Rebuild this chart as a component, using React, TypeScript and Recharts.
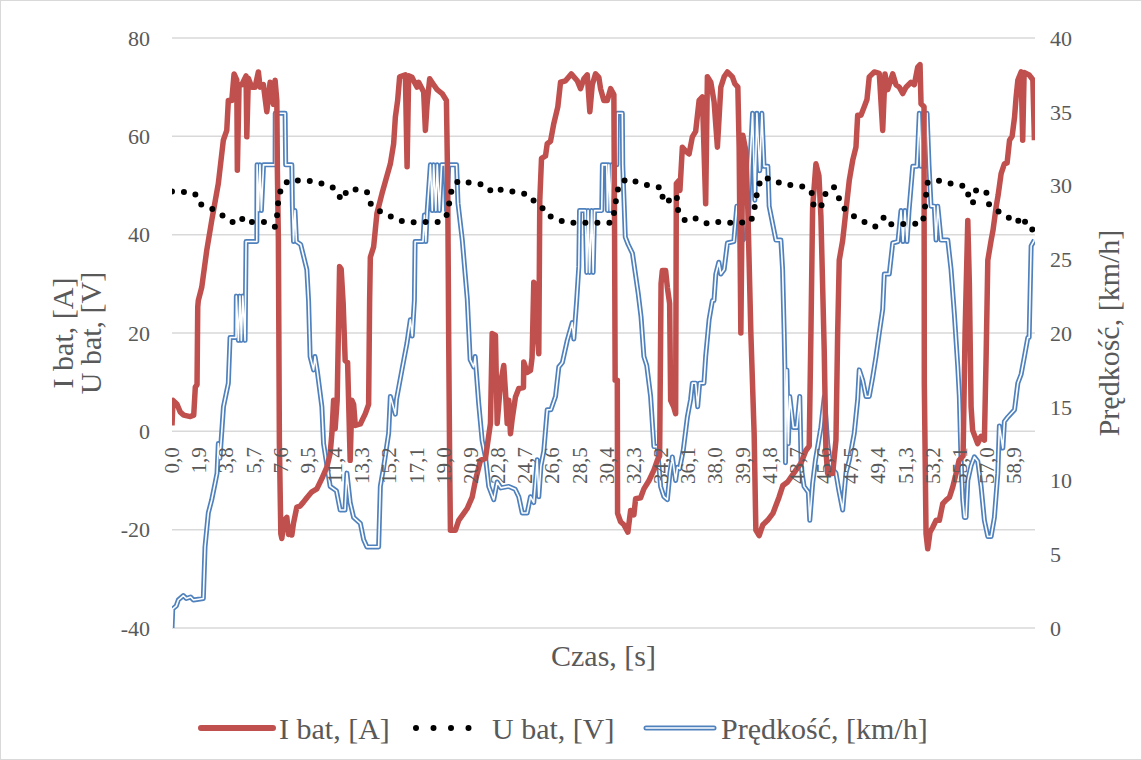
import React from "react";
import { LineChart, Line, XAxis, YAxis, CartesianGrid } from "recharts";

const FONT = "'Liberation Serif', 'Times New Roman', serif";
const TEXT = "#595959";
const GRID = "#d9d9d9";
const RED = "#c0504d";
const BLUE = "#4f81bd";

const W = 1142;
const H = 760;
const TOP = 38;
const PLOT_H = 590;
const LEFT_W = 172;
const RIGHT_W = 107;

// czas [s] -> etykiety osi X co 1,9 s
const xTicks = [
  0, 1.9, 3.8, 5.7, 7.6, 9.5, 11.4, 13.3, 15.2, 17.1, 19.0, 20.9, 22.8, 24.7, 26.6, 28.5,
  30.4, 32.3, 34.2, 36.1, 38.0, 39.9, 41.8, 43.7, 45.6, 47.5, 49.4, 51.3, 53.2, 55.1, 57.0, 58.9,
];
const leftTicks = [-40, -20, 0, 20, 40, 60, 80];
const rightTicks = [0, 5, 10, 15, 20, 25, 30, 35, 40];

// I bat [A]: [czas, prad]
const iBat: [number, number][] = [
  [0, 1.2], [0.07, 6.3], [0.35, 5.5], [0.58, 3.9], [0.82, 3.3], [1.28, 3.0], [1.52, 3.3], [1.63, 9.0],
  [1.75, 9.5], [1.8, 25.3], [1.84, 26.6], [2.08, 29.3], [2.43, 36.8], [2.78, 42.9], [3.24, 50.4],
  [3.59, 59.2], [3.83, 61.2], [3.94, 67.3], [4.18, 67.3], [4.34, 72.7], [4.53, 71.5], [4.57, 53.1],
  [4.69, 70.5], [4.88, 70.5], [5.18, 72.3], [5.23, 59.9], [5.34, 71.8], [5.58, 70.0], [5.81, 70.0],
  [6.04, 73.1], [6.16, 70.0], [6.39, 70.5], [6.63, 65.0], [6.86, 71.0], [7.09, 66.5], [7.21, 71.4],
  [7.33, 67.3], [7.37, 53.0], [7.44, 38.8], [7.51, -2.5], [7.61, -20.8], [7.68, -21.8], [7.84, -18.1],
  [8.03, -17.5], [8.15, -21.0], [8.26, -19.5], [8.38, -21.1], [8.49, -18.8], [8.73, -15.4], [8.96, -15.2],
  [9.19, -14.4], [9.43, -13.5], [9.78, -12.3], [10.13, -11.7], [10.48, -9.6], [10.83, -7.3], [11.06, -4.5],
  [11.18, -0.5], [11.3, 6.3], [11.41, 0.5], [11.55, 6.3], [11.72, 33.5], [11.83, 33.0], [11.97, 26.0],
  [12.11, 14.4], [12.28, 14.0], [12.46, -5.9], [12.58, 6.3], [12.7, 5.5], [12.82, 1.2], [13.17, 1.5],
  [13.52, 3.6], [13.75, 5.5], [13.82, 26.6], [13.87, 35.4], [14.1, 37.5], [14.33, 44.3], [14.68, 48.3],
  [15.27, 54.4], [15.5, 58.5], [15.62, 63.9], [15.78, 67.3], [15.92, 72.1], [16.32, 72.5], [16.44, 53.8],
  [16.55, 72.3], [16.79, 72.0], [16.95, 71.0], [17.14, 70.0], [17.25, 71.0], [17.6, 69.0], [17.72, 61.2],
  [17.84, 66.6], [18.02, 71.7], [18.3, 70.5], [18.54, 69.5], [18.89, 68.7], [19.19, 67.3], [19.28, 50.0],
  [19.35, 18.5], [19.42, -7.3], [19.47, -20.1], [19.82, -20.1], [20.05, -18.1], [20.4, -16.7],
  [20.64, -15.7], [20.99, -13.4], [21.22, -10.0], [21.57, -5.9], [21.92, -5.5], [22.27, 1.6], [22.39, 19.9],
  [22.62, 19.5], [22.74, 1.6], [22.97, 9.7], [23.2, 13.4], [23.32, 8.0], [23.44, 1.6], [23.55, 6.3],
  [23.67, -0.5], [23.79, 2.5], [24.02, 7.0], [24.25, 8.7], [24.58, 8.9], [24.6, 14.1], [24.84, 12.0],
  [25.07, 12.4], [25.18, 15.0], [25.3, 30.3], [25.42, 29.5], [25.53, 20.0], [25.65, 15.8], [25.72, 47.0],
  [25.84, 55.5], [26.12, 56.0], [26.24, 58.5], [26.47, 59.0], [26.7, 62.6], [26.98, 66.0], [27.17, 71.0],
  [27.52, 71.3], [27.92, 72.7], [28.34, 71.3], [28.57, 69.7], [28.8, 71.7], [29.04, 72.5], [29.22, 65.0],
  [29.39, 70.5], [29.62, 72.7], [29.85, 72.0], [29.97, 69.7], [30.2, 67.3], [30.44, 67.3], [30.67, 69.7],
  [30.9, 68.5], [30.95, 40.0], [30.99, 10.4], [31.14, 10.4], [31.16, -16.7], [31.37, -18.4], [31.6, -19.0],
  [31.88, -20.5], [32.07, -16.1], [32.3, -17.0], [32.42, -13.7], [32.77, -13.5], [33.0, -11.7],
  [33.36, -10.0], [33.7, -7.9], [33.94, -5.9], [34.1, -5.0], [34.2, 30.0], [34.29, 32.7], [34.52, 32.7],
  [34.64, 29.3], [34.8, 26.0], [34.87, 6.3], [35.08, 5.0], [35.22, 3.6], [35.27, 50.4], [35.45, 51.0],
  [35.52, 49.0], [35.69, 57.8], [35.92, 57.0], [36.16, 56.4], [36.39, 59.9], [36.62, 61.0], [36.86, 67.3],
  [37.09, 68.0], [37.32, 46.3], [37.44, 72.1], [37.68, 71.0], [37.91, 67.0], [38.14, 57.8], [38.38, 70.0],
  [38.61, 72.1], [38.84, 73.1], [39.19, 72.1], [39.36, 70.7], [39.57, 70.0], [39.66, 57.8], [39.78, 20.0],
  [39.92, 60.2], [40.13, 57.0], [40.27, 45.0], [40.48, 20.0], [40.71, -0.5], [40.83, -20.1],
  [41.06, -21.2], [41.32, -19.0], [41.65, -18.1], [42.02, -16.7], [42.45, -13.4], [42.72, -11.0],
  [43.05, -10.3], [43.63, -7.9], [43.98, -6.5], [44.33, -3.9], [44.56, -3.0], [44.68, 20.0], [44.8, 45.6],
  [45.03, 54.4], [45.24, 52.0], [45.38, 43.6], [45.61, 16.5], [45.73, -4.0], [45.85, -8.6], [46.2, -8.6],
  [46.43, -1.8], [46.55, 20.0], [46.66, 34.8], [46.9, 38.8], [47.13, 44.9], [47.36, 51.0], [47.6, 55.1],
  [47.83, 57.8], [47.95, 64.3], [48.18, 64.3], [48.41, 66.0], [48.6, 67.5], [48.76, 72.1], [49.11, 73.1],
  [49.46, 72.8], [49.7, 61.2], [49.86, 72.7], [50.05, 69.5], [50.4, 72.7], [50.63, 70.5], [50.86, 70.0],
  [51.1, 68.7], [51.33, 70.0], [51.68, 71.0], [51.91, 70.5], [52.15, 74.1], [52.31, 74.6], [52.38, 66.6],
  [52.59, 66.0], [52.61, 9.7], [52.73, -20.8], [52.85, -23.9], [53.01, -20.5], [53.2, -19.5],
  [53.43, -18.1], [53.66, -18.1], [53.9, -14.7], [54.13, -14.0], [54.37, -13.4], [54.6, -11.3],
  [54.83, -8.6], [55.04, -5.9], [55.32, -5.0], [55.46, 20.0], [55.65, 42.9], [55.76, 30.0], [55.88, 5.0],
  [55.99, 0.2], [56.34, -2.5], [56.58, -1.0], [56.81, -1.8], [56.93, 15.0], [57.05, 34.8], [57.28, 38.8],
  [57.42, 41.0], [57.63, 45.6], [57.77, 48.0], [57.98, 52.4], [58.21, 54.4], [58.4, 54.6], [58.57, 59.2],
  [58.75, 60.0], [58.92, 63.9], [59.03, 68.0], [59.15, 71.4], [59.38, 73.1], [59.49, 59.2], [59.59, 73.0],
  [59.94, 72.5], [60.2, 71.5], [60.31, 59.2],
];

// U bat [V]: [czas, napiecie]
const uBat: [number, number][] = [
  [0, 48.8], [0.56, 48.8], [1.61, 48.3], [1.96, 46.2], [2.59, 45.6], [3.29, 44.4], [3.99, 43.0],
  [4.48, 42.2], [4.71, 42.9], [5.18, 43.6], [5.58, 42.6], [6.51, 42.6], [7.21, 41.6], [7.37, 44.3],
  [7.44, 47.3], [7.68, 49.9], [8.26, 51.2], [9.19, 50.9], [9.85, 50.9], [10.71, 50.2], [11.3, 49.5],
  [11.88, 47.0], [12.28, 49.2], [12.82, 49.2], [13.63, 48.7], [13.91, 46.2], [14.61, 44.6], [15.39, 43.6],
  [16.2, 42.6], [17.02, 42.5], [17.84, 42.6], [18.77, 42.6], [19.24, 44.1], [19.59, 49.7], [20.05, 51.0],
  [20.92, 50.5], [21.8, 50.2], [22.46, 48.5], [23.02, 49.2], [23.44, 49.0], [24.18, 48.5], [24.84, 48.2],
  [25.47, 46.4], [25.82, 45.8], [26.19, 44.1], [26.94, 43.1], [27.59, 42.4], [28.34, 42.4], [29.27, 42.4],
  [29.97, 42.4], [30.72, 42.4], [30.95, 44.8], [31.07, 47.5], [31.25, 50.2], [31.84, 51.4], [32.54, 50.7],
  [33.42, 49.9], [34.22, 49.6], [34.36, 46.5], [34.87, 47.1], [35.29, 48.0], [35.38, 45.1], [35.87, 42.9],
  [36.46, 43.5], [37.21, 42.4], [37.56, 42.2], [38.14, 42.6], [38.66, 42.4], [39.43, 42.4], [40.48, 42.6],
  [40.71, 45.0], [40.9, 48.3], [41.18, 51.4], [41.88, 51.4], [42.7, 50.2], [43.63, 50.0], [44.33, 49.7],
  [44.8, 48.3], [44.87, 45.6], [45.38, 45.6], [45.66, 48.2], [46.27, 49.8], [46.59, 47.7], [47.01, 45.3],
  [47.71, 43.7], [48.41, 42.6], [49.16, 41.6], [49.81, 43.6], [50.16, 42.1], [50.98, 42.2], [51.68, 42.1],
  [52.5, 42.4], [52.66, 45.6], [52.73, 48.0], [52.85, 50.7], [53.78, 51.0], [54.71, 50.2], [55.53, 49.8],
  [55.76, 47.3], [55.99, 46.3], [56.23, 49.0], [56.93, 48.9], [57.09, 46.3], [57.75, 44.8], [58.45, 43.6],
  [59.03, 42.4], [59.5, 43.7], [59.85, 41.2], [60.3, 41.0],
];

// Predkosc [km/h]: [czas, predkosc]
const speed: [number, number][] = [
  [0, 0], [0.05, 1.3], [0.3, 1.5], [0.44, 1.9], [0.79, 2.2], [1.0, 2.0], [1.3, 2.1], [1.5, 1.9], [2.19, 2.0],
  [2.31, 5.5], [2.54, 7.8], [2.78, 8.7], [3.01, 9.8], [3.15, 10.5], [3.24, 12.5], [3.35, 11.5], [3.6, 15.0],
  [3.94, 16.6], [4.06, 19.7], [4.48, 19.7], [4.5, 22.5], [4.64, 19.5], [4.75, 22.5], [4.85, 19.5],
  [4.95, 22.5], [5.11, 19.5], [5.18, 26.2], [5.93, 26.2], [5.95, 31.4], [6.05, 28.3], [6.15, 31.4],
  [6.25, 28.3], [6.4, 31.4], [7.21, 31.4], [7.22, 34.9], [7.91, 34.9], [7.95, 31.4], [8.38, 31.4],
  [8.42, 28.6], [8.5, 26.2], [8.6, 28.3], [8.7, 26.2], [9.0, 26.0], [9.43, 24.3], [9.55, 22.2], [9.66, 18.4],
  [9.9, 17.5], [10.0, 18.4], [10.15, 17.5], [10.48, 15.0], [10.6, 12.5], [11.06, 9.6], [11.5, 9.3],
  [11.76, 8.0], [12.1, 8.0], [12.23, 10.5], [12.46, 8.5], [12.7, 7.5], [13.17, 7.1], [13.4, 6.0],
  [13.63, 5.5], [14.45, 5.5], [14.57, 9.6], [14.8, 10.9], [15.15, 13.2], [15.27, 15.7], [15.62, 14.5],
  [15.7, 15.5], [16.08, 17.5], [16.43, 19.3], [16.67, 20.9], [16.8, 19.8], [16.95, 22.2], [17.0, 26.2],
  [17.55, 26.2], [17.65, 28.0], [17.75, 26.2], [17.85, 28.3], [18.07, 31.4], [18.2, 28.3], [18.3, 31.4],
  [18.45, 28.3], [18.55, 31.4], [18.7, 28.3], [18.85, 31.4], [19.1, 31.4], [19.2, 28.3], [19.35, 31.4],
  [19.9, 31.4], [20.0, 28.8], [20.3, 26.3], [20.5, 24.0], [20.65, 22.3], [20.85, 18.2], [21.1, 17.7],
  [21.2, 18.4], [21.45, 15.2], [21.69, 12.7], [21.92, 11.6], [22.15, 9.6], [22.5, 8.7], [22.74, 9.9],
  [23.0, 9.5], [23.55, 9.6], [24.0, 9.4], [24.25, 8.9], [24.49, 7.8], [24.84, 7.8], [25.07, 8.9],
  [25.3, 8.5], [25.54, 11.4], [25.65, 8.9], [25.8, 11.0], [26.0, 12.0], [26.24, 14.8], [26.5, 14.8],
  [26.82, 15.7], [27.05, 17.7], [27.3, 18.0], [27.64, 19.5], [27.99, 20.7], [28.1, 19.6], [28.3, 22.2],
  [28.45, 24.5], [28.5, 28.3], [28.9, 28.3], [29.0, 24.1], [29.1, 28.3], [29.2, 24.1], [29.35, 28.3],
  [29.45, 24.1], [29.55, 28.3], [30.05, 28.3], [30.1, 31.4], [30.4, 31.4], [30.45, 28.3], [30.55, 31.4],
  [30.65, 28.3], [30.75, 31.4], [31.1, 31.4], [31.14, 34.9], [31.49, 34.9], [31.52, 31.4], [31.7, 26.5],
  [31.9, 26.0], [32.2, 25.4], [32.6, 22.7], [32.8, 21.1], [33.0, 18.4], [33.2, 17.8], [33.47, 15.7],
  [33.7, 12.3], [33.94, 12.3], [34.05, 11.0], [34.17, 9.6], [34.4, 8.9], [34.64, 8.7], [34.82, 10.5],
  [34.99, 11.6], [35.22, 10.0], [35.35, 10.9], [35.5, 10.8], [35.76, 12.1], [36.04, 14.3], [36.27, 15.5],
  [36.39, 16.6], [36.62, 16.6], [36.76, 15.0], [36.9, 16.6], [37.2, 16.6], [37.32, 18.4], [37.56, 20.9],
  [37.79, 22.2], [37.9, 22.2], [38.03, 24.0], [38.24, 24.8], [38.38, 24.0], [38.61, 24.3], [38.84, 26.1],
  [39.29, 26.2], [39.5, 28.6], [39.78, 28.6], [39.92, 26.3], [40.06, 28.6], [40.27, 26.3], [40.41, 31.3],
  [40.6, 34.9], [40.76, 29.0], [40.9, 34.9], [41.1, 31.0], [41.25, 34.9], [41.4, 31.3], [41.67, 31.3],
  [41.76, 28.6], [42.23, 26.3], [42.58, 26.3], [42.7, 24.3], [42.81, 20.0], [42.86, 17.5], [42.9, 11.2],
  [43.0, 17.5], [43.1, 12.5], [43.2, 15.7], [43.45, 13.6], [43.7, 13.6], [43.9, 15.7], [44.0, 10.9],
  [44.2, 9.6], [44.5, 9.2], [44.6, 7.3], [44.8, 9.8], [45.0, 11.4], [45.38, 13.6], [45.62, 15.7],
  [45.85, 12.5], [46.08, 10.9], [46.43, 10.5], [46.64, 9.3], [46.9, 8.0], [47.13, 10.5], [47.37, 11.4],
  [47.71, 13.2], [47.95, 15.5], [48.06, 17.5], [48.3, 16.8], [48.53, 15.7], [48.76, 15.7], [49.0, 17.0],
  [49.23, 18.4], [49.46, 20.0], [49.7, 21.6], [49.81, 24.0], [50.16, 24.0], [50.4, 26.1], [50.77, 26.2],
  [50.98, 28.3], [51.12, 26.2], [51.26, 28.3], [51.4, 26.2], [51.54, 28.3], [51.8, 31.3], [52.1, 31.3],
  [52.26, 34.9], [52.38, 31.3], [52.52, 34.9], [52.66, 31.3], [52.8, 34.9], [52.94, 31.3], [53.08, 28.6],
  [53.31, 28.6], [53.43, 26.3], [53.55, 28.6], [53.78, 26.3], [54.25, 26.3], [54.48, 24.3], [54.71, 21.3],
  [54.83, 19.5], [54.95, 17.7], [55.06, 15.7], [55.18, 11.4], [55.3, 8.7], [55.41, 7.5], [55.53, 7.5],
  [55.65, 10.0], [55.88, 11.0], [56.11, 11.6], [56.35, 11.3], [56.58, 9.6], [56.81, 7.3], [57.05, 6.2],
  [57.28, 6.2], [57.51, 7.5], [57.75, 10.5], [57.86, 13.7], [58.1, 12.2], [58.21, 14.0], [58.45, 14.3],
  [58.92, 14.8], [59.15, 16.6], [59.38, 17.2], [59.61, 18.4], [59.85, 19.7], [59.94, 19.7], [60.08, 25.9],
  [60.31, 26.3],
];

const iBatData = iBat.map(([t, v]) => ({ t, i: v }));
const uBatData = uBat.map(([t, v]) => ({ t, u: v }));
const speedData = speed.map(([t, v]) => ({ t, s: v }));

// etykiety osi X siedza przy linii zera lewej osi, nie na dole
const ZERO_LIFT = (PLOT_H * 40) / 120;

const fmt = (v: number) => v.toFixed(1).replace(".", ",");

const XTick = (props: any) => {
  const { x, y, payload } = props;
  return (
    <text
      transform={`translate(${x},${y - ZERO_LIFT + 16}) rotate(-90)`}
      textAnchor="end"
      dominantBaseline="central"
      fill={TEXT}
      fontSize={21}
      fontFamily={FONT}
    >
      {fmt(payload.value)}
    </text>
  );
};

const XTitle = (props: any) => {
  const { viewBox } = props;
  return (
    <text
      x={viewBox.x + viewBox.width / 2}
      y={viewBox.y + 27}
      textAnchor="middle"
      dominantBaseline="central"
      fill={TEXT}
      fontSize={30}
      fontFamily={FONT}
    >
      Czas, [s]
    </text>
  );
};

const LeftTitle = (props: any) => {
  const cy = TOP + PLOT_H / 2;
  return (
    <g fill={TEXT} fontSize={30} fontFamily={FONT}>
      <text transform={`translate(62,${cy}) rotate(-90)`} textAnchor="middle" dominantBaseline="central">
        I bat, [A]
      </text>
      <text transform={`translate(90,${cy}) rotate(-90)`} textAnchor="middle" dominantBaseline="central">
        U bat, [V]
      </text>
    </g>
  );
};

const RightTitle = (props: any) => {
  const cy = TOP + PLOT_H / 2;
  return (
    <text
      transform={`translate(1108,${cy}) rotate(-90)`}
      textAnchor="middle"
      dominantBaseline="central"
      fill={TEXT}
      fontSize={30}
      fontFamily={FONT}
    >
      Prędkość, [km/h]
    </text>
  );
};

const ChartLegend = () => (
  <svg width={W} height={60} style={{ position: "absolute", left: 0, top: 697 }}>
    <g fontFamily={FONT} fontSize={30} fill={TEXT}>
      <line x1={200} y1={30} x2={272} y2={30} stroke={RED} strokeWidth={6} strokeLinecap="round" />
      <text x={278} y={30} dominantBaseline="central">I bat, [A]</text>
      <line x1={415} y1={30} x2={485} y2={30} stroke="#000" strokeWidth={6} strokeLinecap="round" strokeDasharray="0 17.5" />
      <text x={491} y={30} dominantBaseline="central">U bat, [V]</text>
      <line x1={645} y1={30} x2={713} y2={30} stroke={BLUE} strokeWidth={5} strokeLinecap="round" />
      <line x1={645} y1={30} x2={713} y2={30} stroke="#fff" strokeWidth={1.6} strokeLinecap="round" />
      <text x={720} y={30} dominantBaseline="central">Prędkość, [km/h]</text>
    </g>
  </svg>
);

const App: React.FC = () => {
  return (
    <div
      style={{
        position: "absolute",
        left: 0,
        top: 0,
        width: W,
        height: H,
        background: "#fff",
        boxSizing: "border-box",
        border: "1px solid #d9d9d9",
      }}
    >
      <div style={{ position: "absolute", left: -1, top: -1 }}>
        <LineChart width={W} height={H} margin={{ top: TOP, right: 0, bottom: 0, left: 0 }}>
          <CartesianGrid yAxisId="left" vertical={false} stroke={GRID} strokeWidth={1.5} />
          <XAxis
            type="number"
            dataKey="t"
            domain={[0, 60.35]}
            ticks={xTicks}
            interval={0}
            allowDataOverflow
            height={H - TOP - PLOT_H}
            axisLine={false}
            tickLine={false}
            tickSize={0}
            tickMargin={0}
            tick={<XTick />}
            label={{ content: <XTitle /> }}
          />
          <YAxis
            yAxisId="left"
            domain={[-40, 80]}
            ticks={leftTicks}
            width={LEFT_W}
            axisLine={false}
            tickLine={false}
            tickSize={0}
            tickMargin={22}
            tick={{ fill: TEXT, fontSize: 22, fontFamily: FONT }}
            label={{ content: <LeftTitle /> }}
          />
          <YAxis
            yAxisId="right"
            orientation="right"
            domain={[0, 40]}
            ticks={rightTicks}
            width={RIGHT_W}
            axisLine={false}
            tickLine={false}
            tickSize={0}
            tickMargin={15}
            tick={{ fill: TEXT, fontSize: 22, fontFamily: FONT, textAnchor: "start" }}
            label={{ content: <RightTitle /> }}
          />
          <Line
            yAxisId="right"
            data={speedData}
            dataKey="s"
            type="linear"
            stroke={BLUE}
            strokeWidth={5}
            strokeLinejoin="round"
            dot={false}
            activeDot={false}
            isAnimationActive={false}
          />
          <Line
            yAxisId="right"
            data={speedData}
            dataKey="s"
            type="linear"
            stroke="#fff"
            strokeWidth={1.6}
            strokeLinejoin="round"
            dot={false}
            activeDot={false}
            legendType="none"
            isAnimationActive={false}
          />
          <Line
            yAxisId="left"
            data={iBatData}
            dataKey="i"
            type="linear"
            stroke={RED}
            strokeWidth={5.5}
            strokeLinejoin="round"
            dot={false}
            activeDot={false}
            isAnimationActive={false}
          />
          <Line
            yAxisId="left"
            data={uBatData}
            dataKey="u"
            type="linear"
            stroke="#000"
            strokeWidth={6}
            strokeDasharray="0 12"
            strokeLinecap="round"
            dot={false}
            activeDot={false}
            isAnimationActive={false}
          />
        </LineChart>
      </div>
      <ChartLegend />
    </div>
  );
};

export default App;
